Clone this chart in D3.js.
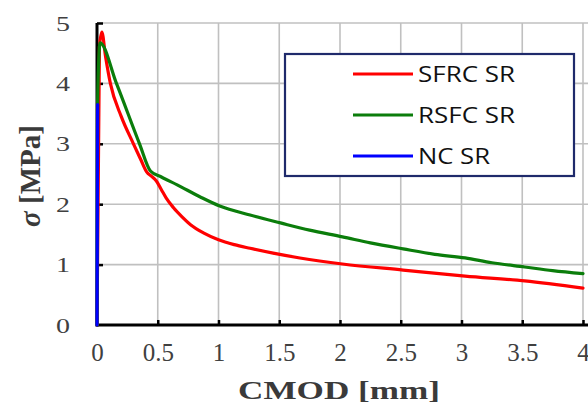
<!DOCTYPE html>
<html>
<head>
<meta charset="utf-8">
<script src="https://cdn.jsdelivr.net/npm/d3@7"></script>
<style>
  html, body { margin: 0; padding: 0; background: #fff; }
  svg { display: block; }
</style>
</head>
<body>
<svg id="chart" width="588" height="405"></svg>
<script>
// ---- data ----
const xTicks = [0, 0.5, 1, 1.5, 2, 2.5, 3, 3.5, 4];
const xTickLabels = ["0", "0.5", "1", "1.5", "2", "2.5", "3", "3.5", "4"];
const yTicks = [0, 1, 2, 3, 4, 5];
const yTickLabels = ["0", "1", "2", "3", "4", "5"];

const seriesNames = ["SFRC SR", "RSFC SR", "NC SR"];
const seriesColors = ["#ff0000", "#0b7d0b", "#0000ff"];

const sfrcX = [0, 0.02, 0.04, 0.07, 0.11, 0.2, 0.3, 0.36, 0.41, 0.45, 0.49, 0.53, 0.57, 0.63, 0.7, 0.77, 0.88, 1.0, 1.13, 1.26, 1.45, 1.67, 2.02, 2.52, 3.03, 3.52, 4.0];
const sfrcY = [0, 4.6, 4.85, 4.45, 4.0, 3.45, 3.0, 2.74, 2.53, 2.46, 2.38, 2.24, 2.1, 1.94, 1.79, 1.66, 1.52, 1.41, 1.33, 1.27, 1.19, 1.11, 1.01, 0.91, 0.81, 0.73, 0.61];

const rsfcX = [0, 0.005, 0.025, 0.16, 0.35, 0.44, 0.53, 0.66, 0.85, 1.01, 1.26, 1.51, 1.75, 2.02, 2.25, 2.52, 2.78, 3.03, 3.25, 3.52, 3.75, 4.0];
const rsfcY = [0, 3.7, 4.67, 4.0, 3.0, 2.55, 2.45, 2.32, 2.12, 1.97, 1.82, 1.69, 1.57, 1.46, 1.36, 1.26, 1.17, 1.11, 1.03, 0.96, 0.9, 0.85];

const ncX = [0, 0.005];
const ncY = [0, 3.65];

const xTitle = "CMOD [mm]";
const yTitleSym = "σ";
const yTitleRest = " [MPa]";

// ---- layout ----
const svg = d3.select("#chart");
const x = d3.scaleLinear().domain([0, 4]).range([97, 583]);
const y = d3.scaleLinear().domain([0, 5]).range([325, 23]);

// grid
const grid = svg.append("g").attr("stroke", "#c0c0c0").attr("stroke-width", 1.6);
grid.selectAll("line.v").data(xTicks.filter(d => d > 0)).join("line")
  .attr("x1", d => x(d)).attr("x2", d => x(d)).attr("y1", y(0)).attr("y2", y(5));
grid.selectAll("line.h").data(yTicks.filter(d => d > 0)).join("line")
  .attr("x1", x(0)).attr("x2", 588).attr("y1", d => y(d)).attr("y2", d => y(d));

// axes
const fmtX = d => xTickLabels[xTicks.indexOf(d)];
const fmtY = d => yTickLabels[yTicks.indexOf(d)];

const gx = svg.append("g").attr("transform", `translate(0,${y(0)})`)
  .call(d3.axisBottom(x).tickValues(xTicks).tickFormat(fmtX).tickSize(-5).tickPadding(18));
gx.select(".domain").remove();
gx.selectAll(".tick line").attr("stroke", "#000").attr("stroke-width", 2.5)
  .attr("display", d => d === 0 ? "none" : null);
gx.selectAll(".tick text").attr("font-family", "'Liberation Serif', serif")
  .attr("font-size", 25).attr("fill", "#404040");

const gy = svg.append("g").attr("transform", `translate(${x(0)},0)`)
  .call(d3.axisLeft(y).tickValues(yTicks).tickFormat(fmtY).tickSize(-6).tickPadding(27));
gy.select(".domain").remove();
gy.selectAll(".tick line").attr("stroke", "#000").attr("stroke-width", 2.5)
  .attr("display", d => d === 0 ? "none" : null);
gy.selectAll(".tick text").attr("font-family", "'Liberation Serif', serif")
  .attr("font-size", 22).attr("fill", "#404040")
  .attr("textLength", 14).attr("lengthAdjust", "spacingAndGlyphs");

// axis lines
svg.append("line").attr("x1", x(0)).attr("x2", 588).attr("y1", y(0)).attr("y2", y(0))
  .attr("stroke", "#000").attr("stroke-width", 3);
svg.append("line").attr("x1", x(0)).attr("x2", x(0)).attr("y1", y(0) + 1.5).attr("y2", y(5))
  .attr("stroke", "#000").attr("stroke-width", 3);

// curves
const line = d3.line().x(d => x(d[0])).y(d => y(d[1])).curve(d3.curveMonotoneX);
const seriesData = [
  d3.zip(sfrcX, sfrcY),
  d3.zip(rsfcX, rsfcY),
  d3.zip(ncX, ncY)
];
seriesData.forEach((data, i) => {
  svg.append("path").datum(data)
    .attr("d", line)
    .attr("fill", "none").attr("stroke", seriesColors[i])
    .attr("stroke-width", 3.2).attr("stroke-linejoin", "round").attr("stroke-linecap", "round");
});

// legend
const lg = svg.append("g");
lg.append("rect").attr("x", 285).attr("y", 54).attr("width", 289).attr("height", 122)
  .attr("fill", "#fff").attr("stroke", "#1f2a6b").attr("stroke-width", 2.2);
const rows = [74, 115, 156];
const legLens = [97, 97, 72];
seriesNames.forEach((name, i) => {
  lg.append("line").attr("x1", 353).attr("x2", 413).attr("y1", rows[i]).attr("y2", rows[i])
    .attr("stroke", seriesColors[i]).attr("stroke-width", 3.2);
  lg.append("text").attr("x", 418).attr("y", rows[i] + 8)
    .attr("font-family", "'Open Sans', sans-serif").attr("font-size", 22).attr("fill", "#111")
    .attr("textLength", legLens[i]).attr("lengthAdjust", "spacingAndGlyphs")
    .text(name);
});

// titles
svg.append("text").attr("x", 339).attr("y", 399).attr("text-anchor", "middle")
  .attr("font-family", "'Liberation Serif', serif").attr("font-weight", "bold")
  .attr("font-size", 26).attr("fill", "#3a3a3a")
  .attr("textLength", 202).attr("lengthAdjust", "spacingAndGlyphs")
  .text(xTitle);

const yt = svg.append("text").attr("transform", "translate(40,176) rotate(-90)")
  .attr("text-anchor", "middle")
  .attr("font-family", "'Liberation Serif', serif").attr("font-weight", "bold")
  .attr("font-size", 29).attr("fill", "#3a3a3a");
yt.append("tspan").attr("font-style", "italic").text(yTitleSym);
yt.append("tspan").text(yTitleRest);
</script>
</body>
</html>
